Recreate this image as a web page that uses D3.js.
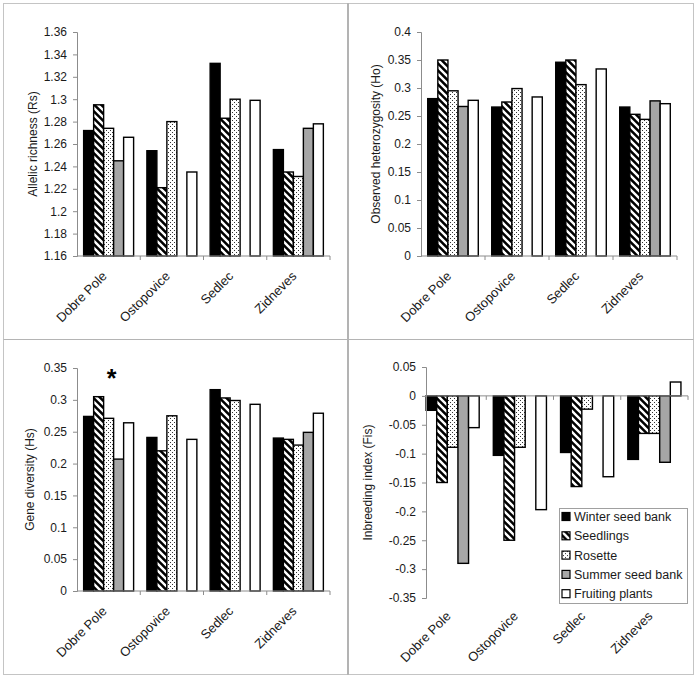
<!DOCTYPE html>
<html>
<head>
<meta charset="utf-8">
<script src="https://cdn.jsdelivr.net/npm/d3@7"></script>
<style>
  html, body { margin: 0; padding: 0; background: #fff; }
  svg { display: block; font-family: "Liberation Sans", Arial, sans-serif; }
</style>
</head>
<body>
<svg id="chart" width="697" height="679"></svg>
<script>
// ---------------- DATA ----------------
const categories = ["Dobre Pole", "Ostopovice", "Sedlec", "Zidneves"];
const seriesNames = ["Winter seed bank", "Seedlings", "Rosette", "Summer seed bank", "Fruiting plants"];

// values per series, in category order (null = no bar)
const rsWinter   = [1.272, 1.254, 1.332, 1.255];
const rsSeedl    = [1.295, 1.221, 1.283, 1.235];
const rsRosette  = [1.274, 1.280, 1.300, 1.231];
const rsSummer   = [1.245, null, null, 1.274];
const rsFruiting = [1.266, 1.235, 1.299, 1.278];

const hoWinter   = [0.281, 0.266, 0.346, 0.266];
const hoSeedl    = [0.350, 0.275, 0.350, 0.253];
const hoRosette  = [0.295, 0.299, 0.306, 0.244];
const hoSummer   = [0.267, null, null, 0.277];
const hoFruiting = [0.278, 0.284, 0.334, 0.272];

const hsWinter   = [0.274, 0.241, 0.316, 0.240];
const hsSeedl    = [0.305, 0.220, 0.303, 0.238];
const hsRosette  = [0.271, 0.275, 0.299, 0.229];
const hsSummer   = [0.207, null, null, 0.249];
const hsFruiting = [0.264, 0.238, 0.293, 0.279];

const fisWinter   = [-0.025, -0.103, -0.098, -0.110];
const fisSeedl    = [-0.150, -0.250, -0.157, -0.065];
const fisRosette  = [-0.089, -0.089, -0.023, -0.065];
const fisSummer   = [-0.290, null, null, -0.115];
const fisFruiting = [-0.055, -0.197, -0.140, 0.024];

const rsTicks  = [1.16, 1.18, 1.2, 1.22, 1.24, 1.26, 1.28, 1.3, 1.32, 1.34, 1.36];
const hoTicks  = [0, 0.05, 0.1, 0.15, 0.2, 0.25, 0.3, 0.35, 0.4];
const hsTicks  = [0, 0.05, 0.1, 0.15, 0.2, 0.25, 0.3, 0.35];
const fisTicks = [-0.35, -0.3, -0.25, -0.2, -0.15, -0.1, -0.05, 0, 0.05];

const yTitles = ["Allelic richness (Rs)", "Observed heterozygosity (Ho)", "Gene diversity (Hs)", "Inbreeding index (Fis)"];

// ---------------- LAYOUT ----------------
const svg = d3.select("#chart");
const defs = svg.append("defs");

// diagonal stripes (seedlings)
const stripe = defs.append("pattern").attr("id", "stripes")
  .attr("patternUnits", "userSpaceOnUse").attr("width", 7).attr("height", 7);
stripe.append("rect").attr("width", 7).attr("height", 7).attr("fill", "#000");
stripe.append("path").attr("d", "M-2,-2 L9,9 M-2,5 L2,9 M5,-2 L9,2")
  .attr("stroke", "#fff").attr("stroke-width", 2.4);

// dotted (rosette)
const dots = defs.append("pattern").attr("id", "dots")
  .attr("patternUnits", "userSpaceOnUse").attr("width", 4).attr("height", 4);
dots.append("rect").attr("width", 4).attr("height", 4).attr("fill", "#fff");
dots.append("rect").attr("x", 0).attr("y", 0).attr("width", 1).attr("height", 1).attr("fill", "#333");
dots.append("rect").attr("x", 2).attr("y", 2).attr("width", 1).attr("height", 1).attr("fill", "#333");

const fills = ["#000", "url(#stripes)", "url(#dots)", "#a6a6a6", "#fff"];

const panels = [
  { series: [rsWinter, rsSeedl, rsRosette, rsSummer, rsFruiting], ticks: rsTicks,
    domain: [1.16, 1.36], base: 1.16, x0: 77, x1: 330, axisX: 77, yTop: 32, yBot: 256, titleX: 37, labDy: 21 },
  { series: [hoWinter, hoSeedl, hoRosette, hoSummer, hoFruiting], ticks: hoTicks,
    domain: [0, 0.4], base: 0, x0: 421, x1: 677, axisX: 421, yTop: 32, yBot: 256, titleX: 380, labDy: 21 },
  { series: [hsWinter, hsSeedl, hsRosette, hsSummer, hsFruiting], ticks: hsTicks,
    domain: [0, 0.35], base: 0, x0: 77, x1: 330, axisX: 77, yTop: 368, yBot: 591, titleX: 34, labDy: 21 },
  { series: [fisWinter, fisSeedl, fisRosette, fisSummer, fisFruiting], ticks: fisTicks,
    domain: [-0.35, 0.05], base: 0, x0: 419, x1: 688, axisX: 426, yTop: 367, yBot: 598, titleX: 372, labDy: 19 }
];

const fmt = d => { const r = Math.round(d * 100) / 100; return (r === 0 ? 0 : r).toString(); };
const axisColor = "#8c8c8c";
const textColor = "#1a1a1a";

// panel frames
svg.append("rect").attr("x", 3.5).attr("y", 3.5).attr("width", 690).attr("height", 671)
  .attr("fill", "none").attr("stroke", "#c4c4c4").attr("stroke-width", 1);
svg.append("line").attr("x1", 348).attr("x2", 348).attr("y1", 3.5).attr("y2", 674.5)
  .attr("stroke", "#9a9a9a").attr("stroke-width", 1.5);
svg.append("line").attr("x1", 3.5).attr("x2", 693.5).attr("y1", 339.5).attr("y2", 339.5)
  .attr("stroke", "#b4b4b4").attr("stroke-width", 1);

panels.forEach((p, pi) => {
  const g = svg.append("g");
  const x = d3.scaleBand().domain(categories).range([p.x0, p.x1]).padding(0);
  const off = x.bandwidth() * 0.105;
  const xs = d3.scaleBand().domain(seriesNames).range([off, x.bandwidth() - off]).padding(0);
  const y = d3.scaleLinear().domain(p.domain).range([p.yBot, p.yTop]);

  // bars
  seriesNames.forEach((s, si) => {
    const vals = p.series[si];
    g.append("g").selectAll("rect")
      .data(categories.map((c, ci) => ({ c, v: vals[ci] })).filter(d => d.v !== null))
      .join("rect")
      .attr("x", d => x(d.c) + xs(s))
      .attr("width", xs.bandwidth())
      .attr("y", d => Math.min(y(d.v), y(p.base)))
      .attr("height", d => Math.abs(y(d.v) - y(p.base)))
      .attr("fill", fills[si])
      .attr("stroke", "#000")
      .attr("stroke-width", 1.4);
  });

  // y axis
  const yAxis = d3.axisLeft(y).tickValues(p.ticks).tickFormat(fmt).tickSize(4).tickPadding(6);
  const ya = g.append("g").attr("transform", `translate(${p.axisX},0)`).call(yAxis);
  ya.select(".domain").attr("stroke", axisColor);
  ya.selectAll(".tick line").attr("stroke", axisColor);
  ya.selectAll(".tick text").attr("font-size", 12).attr("fill", textColor)
    .attr("font-family", "Liberation Sans, Arial, sans-serif");

  // x axis (at base value)
  const y0 = y(p.base);
  const bounds = x.domain().map(c => x(c)).concat([p.x1]);
  g.append("line").attr("x1", p.axisX).attr("x2", p.x1).attr("y1", y0).attr("y2", y0)
    .attr("stroke", axisColor);
  g.append("g").selectAll("line").data(bounds.slice(1)).join("line")
    .attr("x1", d => d).attr("x2", d => d).attr("y1", y0).attr("y2", y0 + 4)
    .attr("stroke", axisColor);

  // category labels
  g.append("g").selectAll("text").data(categories).join("text")
    .attr("transform", d => `translate(${x(d) + x.bandwidth() / 2 - 1},${p.yBot + p.labDy}) rotate(-45)`)
    .attr("text-anchor", "end")
    .attr("font-size", 13).attr("fill", textColor)
    .text(d => d);

  // y title
  g.append("text")
    .attr("transform", `translate(${p.titleX},${(p.yTop + p.yBot) / 2}) rotate(-90)`)
    .attr("text-anchor", "middle").attr("font-size", 12).attr("fill", textColor)
    .text(yTitles[pi]);

  if (pi === 2) {
    // significance asterisk above Dobre Pole
    g.append("text").attr("x", x("Dobre Pole") + xs("Rosette") + xs.bandwidth() * 0.8)
      .attr("y", 387).attr("text-anchor", "middle")
      .attr("font-size", 25).attr("font-weight", "bold").attr("fill", "#000").text("*");
  }
});

// legend
const lg = svg.append("g").attr("transform", "translate(559,508)");
lg.append("rect").attr("x", 0.5).attr("y", 0.5).attr("width", 128).attr("height", 95)
  .attr("fill", "#fff").attr("stroke", "#a0a0a0");
const items = lg.selectAll("g.item").data(seriesNames).join("g").attr("class", "item")
  .attr("transform", (d, i) => `translate(0,${8.5 + i * 19.3})`);
items.append("rect").attr("x", 3).attr("y", -4).attr("width", 8).attr("height", 8)
  .attr("fill", (d, i) => fills[i]).attr("stroke", "#000").attr("stroke-width", 1.2);
items.append("text").attr("x", 15).attr("y", 4.5).attr("font-size", 12.5).attr("fill", textColor)
  .text(d => d);
</script>
</body>
</html>
